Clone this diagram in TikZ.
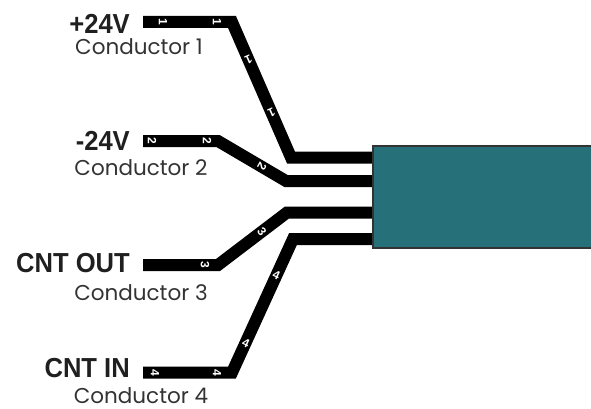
\documentclass[tikz,border=0pt]{standalone}
\usepackage{fontspec}
\setmainfont{Poppins}
\newfontfamily\signalfont{Liberation Sans}
\newfontfamily\signalcond[FakeStretch = 0.93]{Liberation Sans}
\definecolor{cable}{RGB}{38,112,122}

\begin{document}
\begin{tikzpicture}[x = 1pt, y = -1pt,
	wire/.style = {line width = 12pt, line join = miter},
	signal/.style = {anchor = base east, inner sep = 0pt, text = black!88, font = \signalcond\bfseries\fontsize{27.5}{27.5}\selectfont},
	conductor/.style = {anchor = base, inner sep = 0pt, text depth = 0pt, text = black!80, font = \fontsize{21.5}{21.5}\selectfont},
	tag/.style = {inner sep = 0pt, text = white, font = \signalfont\bfseries\fontsize{12}{12}\selectfont}]

\useasboundingbox (0, 0) rectangle (591, 409);

% Definitions

\def\L{143}
\def\E{380}

% Wire bends

\coordinate (w1-start) at (\L, 22);
\coordinate (w1-bend1) at (232, 22);
\coordinate (w1-bend2) at (291, 157.5);
\coordinate (w1-end) at (\E, 157.5);

\coordinate (w2-start) at (\L, 141);
\coordinate (w2-bend1) at (218, 141);
\coordinate (w2-bend2) at (286, 181);
\coordinate (w2-end) at (\E, 181);

\coordinate (w3-start) at (\L, 265);
\coordinate (w3-bend1) at (218, 265);
\coordinate (w3-bend2) at (287, 212.5);
\coordinate (w3-end) at (\E, 212.5);

\coordinate (w4-start) at (\L, 372.5);
\coordinate (w4-bend1) at (232, 372.5);
\coordinate (w4-bend2) at (293, 239);
\coordinate (w4-end) at (\E, 239);

% Wires

\foreach \w in {1, 2, 3, 4}
	\draw [wire] (w\w-start) -- (w\w-bend1) -- (w\w-bend2) -- (w\w-end);

% Cable

\draw [fill = cable, draw = black!80, line width = 2pt] (373, 146) rectangle (593, 248);

% Numbers on the wires

\foreach \x/\y/\a/\n [count = \i] in {163/22/-90/1, 217/22/-90/1, 248.5/60/-156/1, 271.5/113/-156/1,
	152/141/-90/2, 207/141/-90/2, 262/166/-120/2,
	205/265/-90/3, 262/232/-53/3,
	155/372.5/-90/4, 217/372.5/-90/4, 246/343/-25/4, 276.5/275/-25/4}
	\node [tag, rotate = \a] (tag-\i) at (\x, \y) {\n};

% Signal names

\node [signal] (sig1) at (130, 34) {+24V};
\node [signal] (sig2) at (130, 150) {-24V};
\node [signal] (sig3) at (130, 272) {CNT OUT};
\node [signal] (sig4) at (130, 377) {CNT IN};

% Conductor names

\node [conductor] (cond1) at (139, 55) {Conductor 1};
\node [conductor] (cond2) at (141, 175) {Conductor 2};
\node [conductor] (cond3) at (141, 300) {Conductor 3};
\node [conductor] (cond4) at (141, 403) {Conductor 4};

\end{tikzpicture}
\end{document}
